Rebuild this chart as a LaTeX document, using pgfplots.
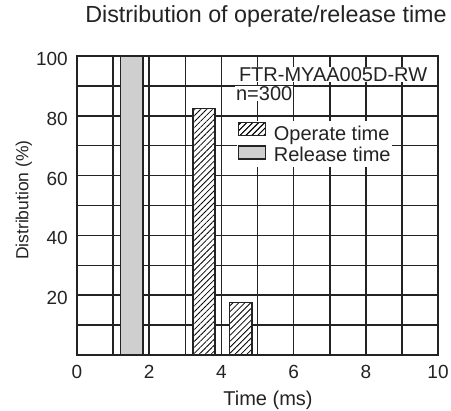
\documentclass[border=0pt]{standalone}
\usepackage{fontspec}
\setmainfont{Liberation Sans}
\usepackage{pgfplots}
\pgfplotsset{compat=1.18}
\usetikzlibrary{patterns.meta}
\definecolor{relgray}{RGB}{207,207,207}
\definecolor{ink}{RGB}{35,35,35}
\begin{document}
\begin{tikzpicture}[font=\fontsize{20bp}{24bp}\selectfont]
\useasboundingbox (-77bp,-56bp) rectangle (374bp,355bp);
\begin{axis}[
  at={(0,0)}, anchor=south west,
  scale only axis, width=361bp, height=299bp,
  xmin=0, xmax=10, ymin=0, ymax=100,
  xtick={0,2,...,10}, minor xtick={1,3,...,9},
  ytick={20,40,...,100}, minor ytick={10,30,...,90},
  grid=both,
  major grid style={line width=1.6bp, draw=ink},
  minor grid style={line width=1.6bp, draw=ink},
  major tick length=0pt, minor tick length=0pt,
  axis line style={line width=2bp, draw=ink},
  /pgf/number format/assume math mode=true,
  ticklabel style={font=\fontsize{19bp}{22bp}\selectfont, text=ink, inner sep=0pt},
  xticklabel style={anchor=north, yshift=-10bp},
  yticklabel style={anchor=east, xshift=-9bp, yshift=-3bp},
  xlabel={Time (ms)},
  xlabel style={at={(rel axis cs:0.529,-0.15)}, anchor=center, font=\fontsize{20bp}{24bp}\selectfont, text=ink},
  ylabel={Distribution (\%)},
  ylabel style={at={(rel axis cs:-0.147,0.518)}, anchor=center, rotate=0, font=\fontsize{17.5bp}{21bp}\selectfont, text=ink},
  title={Distribution of operate/release time},
  title style={at={(rel axis cs:0.5235,1)}, anchor=base, yshift=28bp, inner sep=0pt, text=ink, font=\fontsize{23.3bp}{28bp}\selectfont},
  legend style={at={(rel axis cs:0.443,0.783)}, anchor=north west, fill=white, draw=none,
    inner sep=1bp, row sep=0pt, font=\fontsize{20bp}{24bp}\selectfont, text=ink,
    nodes={inner sep=0.5bp, text height=14.5bp, text depth=4bp},
    /tikz/every odd column/.style={column sep=7bp}},
  legend cell align=left,
]
\addplot[ybar, bar width=0.62, bar shift=0pt, draw=ink, fill=white, line width=1.6bp,
  postaction={pattern={Lines[angle=45,distance=4.2bp,line width=0.8bp]}},
  legend image code/.code={\draw[draw=ink, fill=white, line width=1.3bp, postaction={pattern={Lines[angle=45,distance=4.2bp,line width=0.8bp]}}] (0bp,0bp) rectangle (27bp,13bp);}]
  coordinates {(3.52,82.5) (4.53,17.5)};
\addlegendentry{Operate time}
\addplot[ybar, bar width=0.62, bar shift=0pt, draw=ink, fill=relgray, line width=1.6bp,
  legend image code/.code={\draw[draw=ink, fill=relgray, line width=1.3bp] (0bp,-3bp) rectangle (27bp,10bp);}]
  coordinates {(1.52,100)};
\addlegendentry{Release time}
\node[anchor=base west, fill=white, inner sep=0.8bp, text depth=0pt, text=ink] at (rel axis cs:0.446,0.9147) {FTR-MYAA005D-RW};
\node[anchor=base west, fill=white, inner sep=0.8bp, text depth=0pt, text=ink] at (rel axis cs:0.438,0.8512) {n=300};
\end{axis}
\end{tikzpicture}
\end{document}
